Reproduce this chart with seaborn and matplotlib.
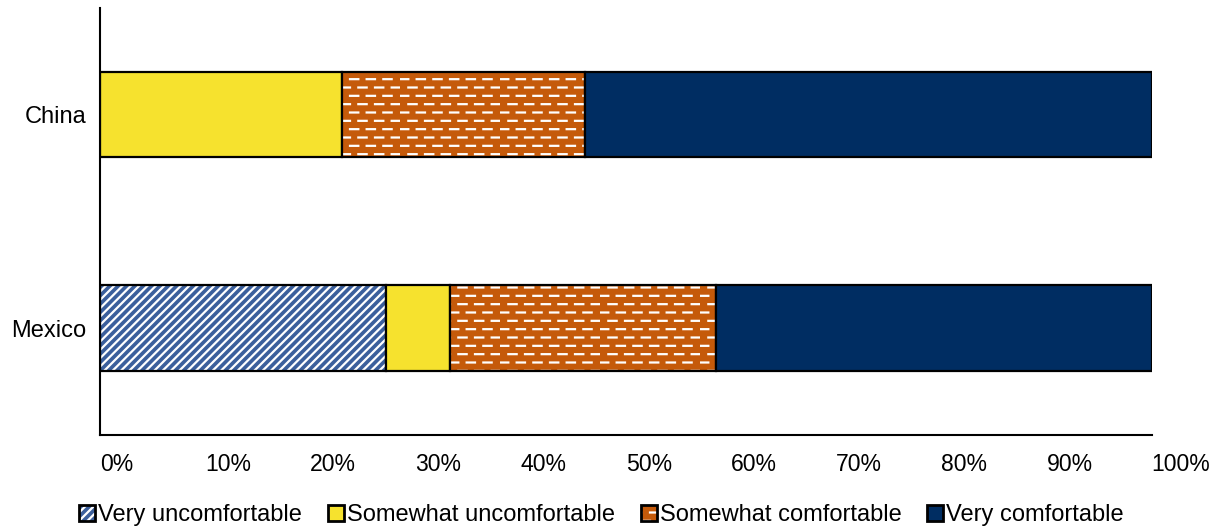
import numpy as np
import matplotlib
matplotlib.use("Agg")
import matplotlib.pyplot as plt
import matplotlib.hatch as mhatch
import matplotlib.colors as mcolors
from matplotlib.path import Path
import seaborn as sns

# Survey responses (share of respondents, %)
countries = ["China", "Mexico"]
very_uncomfortable = [0.0, 27.2]
somewhat_uncomfortable = [23.0, 6.1]
somewhat_comfortable = [23.1, 25.3]
very_comfortable = [53.9, 41.4]

response_labels = ["Very uncomfortable", "Somewhat uncomfortable",
                   "Somewhat comfortable", "Very comfortable"]
x_ticks = list(range(0, 101, 10))
x_tick_labels = [f"{t}%" for t in x_ticks]


class DashedRowsHatch(mhatch.HatchPatternBase):
    """Rows of short horizontal dashes; every other row is shifted by half a period."""

    def __init__(self, hatch, density):
        self.num_rows = (hatch.count('-') + hatch.count('+')) * density
        self.num_dashes = self.num_rows // 2
        self.num_vertices = self.num_rows * self.num_dashes * 2

    def set_vertices_and_codes(self, vertices, codes):
        period = 1.0 / self.num_dashes
        k = 0
        for row in range(self.num_rows):
            y = (row + 0.5) / self.num_rows
            shift = 0.5 * period if row % 2 else 0.0
            for d in range(self.num_dashes):
                x0 = d * period + shift
                vertices[k] = (x0, y)
                vertices[k + 1] = (x0 + 0.5 * period, y)
                codes[k] = Path.MOVETO
                codes[k + 1] = Path.LINETO
                k += 2


# use dashed rows for the '-' hatch
mhatch._hatch_types = [DashedRowsHatch if t is mhatch.HorizontalHatch else t
                       for t in mhatch._hatch_types]

sns.set_theme(style="white")
plt.rcParams["font.family"] = ["Liberation Sans", "DejaVu Sans"]
plt.rcParams["hatch.linewidth"] = 1.6
plt.rcParams["text.color"] = "black"
plt.rcParams["xtick.color"] = "black"
plt.rcParams["ytick.color"] = "black"

fig, ax = plt.subplots(figsize=(12.2, 5.31), dpi=100)
fig.subplots_adjust(left=0.082, right=0.944, top=0.985, bottom=0.181)

segments = [
    (very_uncomfortable, "#3B5F9C", "////"),
    (somewhat_uncomfortable, "#F6E22E", None),
    (somewhat_comfortable, "#C55A0A", "--"),
    (very_comfortable, "#002D62", None),
]

left = np.zeros(len(countries))
for values, color, hatch in segments:
    sns.barplot(x=values, y=countries, order=countries, orient="h",
                color=color, saturation=1, width=0.4, left=left.copy(),
                edgecolor="black", linewidth=1.6, hatch=hatch, ax=ax)
    for patch in ax.containers[-1]:
        patch._hatch_color = mcolors.to_rgba("white")
    left += np.asarray(values)

ax.set_xlim(0, 100)
ax.set_ylim(1.5, -0.5)
ax.set_xticks(x_ticks)
ax.set_xticklabels(x_tick_labels)
for lbl in ax.get_xticklabels():
    lbl.set_horizontalalignment("left")
ax.set_xlabel("")
ax.set_ylabel("")
ax.tick_params(axis="x", length=0, pad=13, labelsize=16.6)
ax.tick_params(axis="y", length=0, pad=10, labelsize=17)

for side in ("top", "right"):
    ax.spines[side].set_visible(False)
for side in ("left", "bottom"):
    ax.spines[side].set_color("black")
    ax.spines[side].set_linewidth(1.5)

leg = fig.legend(handles=list(ax.containers), labels=response_labels,
                 loc="center", bbox_to_anchor=(0.493, 0.03), ncol=4, frameon=False,
                 fontsize=17, handlelength=0.68, handleheight=0.68,
                 handletextpad=0.12, columnspacing=1.1, borderaxespad=0)
for handle in leg.legend_handles:
    handle.set_linewidth(2.0)

fig.savefig("out.png", dpi=100)
